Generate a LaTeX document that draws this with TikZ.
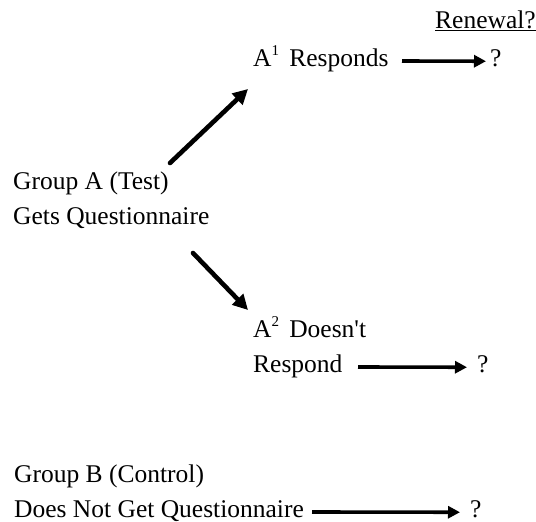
\documentclass[tikz,border=0pt]{standalone}
\usepackage{fontspec}
\setmainfont{Liberation Serif}
\usetikzlibrary{arrows.meta}
\tikzset{
  lbl/.style={anchor=base west, inner sep=0pt, align=left, font=\fontsize{25.5}{35}\selectfont},
  diag/.style={line width=4.6pt, line cap=round, -{Triangle[length=15pt,width=15pt]}},
  horiz/.style={line width=3.6pt, -{Triangle[length=12pt,width=12pt]}},
}
\newcommand{\supx}[1]{\raisebox{0.40em}{\fontsize{15}{15}\selectfont #1}}
\begin{document}
\begin{tikzpicture}[x=1pt,y=-1pt]
\useasboundingbox (0,0) rectangle (536,522);
\node[lbl] (ren) at (435,28) {\underline{Renewal?}};
\node[lbl] (a1) at (253,66) {A\supx{1}\hspace{0.4em}Responds};
\node[lbl] (q1) at (490,66) {?};
\node[lbl] (gA) at (13,224) {Group A (Test)\\Gets Questionnaire};
\node[lbl] (a2) at (253,372) {A\supx{2}\hspace{0.4em}Doesn\textquotesingle t\\Respond};
\node[lbl] (q2) at (477,372) {?};
\node[lbl] (gB) at (14,517) {Group B (Control)\\Does Not Get Questionnaire};
\node[lbl] (q3) at (470,517) {?};
\coordinate (upS) at (170,163);
\coordinate (upE) at (248,89);
\coordinate (dnS) at (193,253);
\coordinate (dnE) at (248,310);
\coordinate (h1) at (402,61);
\coordinate (h2) at (358,367);
\coordinate (h3) at (312,512);
\draw[diag] (upS) -- (upE);
\draw[diag] (dnS) -- (dnE);
\draw[horiz] (h1) -- ([xshift=-4pt,yshift=-3.5pt]q1.west);
\draw[horiz] (h2) -- ([xshift=-10pt,yshift=-3.5pt]q2.west);
\draw[horiz] (h3) -- ([xshift=-10pt,yshift=-3.5pt]q3.west);
\end{tikzpicture}
\end{document}
